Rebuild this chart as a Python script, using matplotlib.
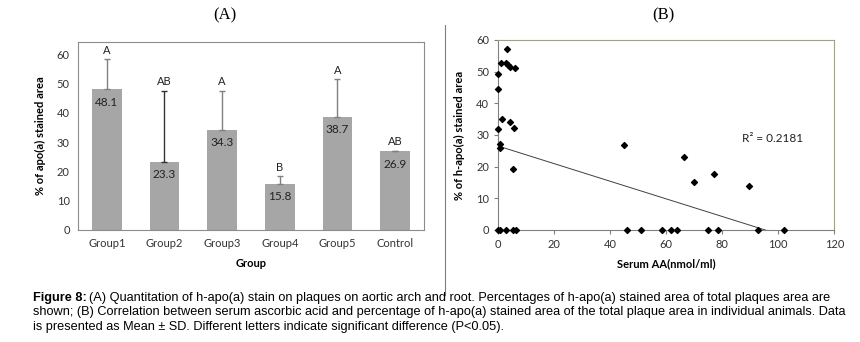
import numpy as np
import matplotlib
matplotlib.use("Agg")
import matplotlib.pyplot as plt
from matplotlib import font_manager

# panel A data
groups = ["Group1", "Group2", "Group3", "Group4", "Group5", "Control"]
means = [48.1, 23.3, 34.3, 15.8, 38.7, 26.9]
sds = [10.2, 24.2, 13.2, 2.5, 12.8, 0.2]
letters = ["A", "AB", "A", "B", "A", "AB"]

# panel B data
serum_aa = [0, 0, 0.8, 2.7, 3.0, 3.5, 4.3, 5.8, 1.5, 4.3, 5.6, 0, 0.6, 0.6, 5.1,
            44.9, 66.4, 77.1, 69.9, 89.5,
            0, 0.6, 2.7, 5.1, 6.5, 46.1, 51.1, 58.5, 61.8, 63.7, 74.9, 78.6, 92.7, 102.1]
hapo = [49.3, 44.5, 52.6, 52.6, 57.2, 52.1, 51.6, 51.3, 35.0, 34.2, 32.2, 31.8, 27.2, 25.8, 19.2,
        26.9, 23.1, 17.7, 15.2, 14.0,
        0, 0, 0, 0, 0, 0, 0, 0, 0, 0, 0, 0, 0, 0]
# excel trendline
trend_intercept = 26.5
trend_slope = -0.278
r2_text = "R\u00b2 = 0.2181"

names = {f.name for f in font_manager.fontManager.ttflist}
sans = "Lato" if "Lato" in names else "DejaVu Sans"
capfont = "Liberation Sans"
plt.rcParams["font.family"] = [sans, "DejaVu Sans"]
plt.rcParams["font.size"] = 8

fig = plt.figure(figsize=(8.6, 3.42), dpi=100)

# ---- panel A
axA = fig.add_axes([0.0907, 0.3275, 0.4023, 0.5497])
x = np.arange(len(groups))
axA.bar(x, means, width=0.51, color="#a6a6a6", zorder=2)
errc = ["#808080", "#333333", "#808080", "#808080", "#808080", "#808080"]
for i in range(len(groups)):
    axA.errorbar(x[i], means[i], yerr=[[0], [sds[i]]], fmt="none", ecolor=errc[i],
                 elinewidth=1, capsize=2.5, capthick=1, zorder=3)
    axA.annotate(f"{means[i]:.1f}", (x[i], means[i]), xytext=(0, -5.5), textcoords="offset points",
                 ha="center", va="top", fontsize=8.5, color="#222222", zorder=4)
    axA.annotate(letters[i], (x[i], means[i] + sds[i]), xytext=(0, 2.5), textcoords="offset points",
                 ha="center", va="bottom", fontsize=8, color="#222222")
axA.set_xlim(-0.5, len(groups) - 0.5)
axA.set_ylim(0, 64.2)
axA.set_yticks(range(0, 61, 10))
axA.set_xticks(x)
axA.set_xticklabels(groups)
axA.tick_params(length=0, labelsize=8, colors="#333333", pad=6)
for s in axA.spines.values():
    s.set_color("#8c8c8c")
    s.set_linewidth(0.8)
axA.set_xlabel("Group", fontweight="bold", fontsize=8, labelpad=6)
axA.set_ylabel("% of apo(a) stained area", fontweight="bold", fontsize=8, labelpad=8)
fig.text(0.262, 0.955, "(A)", family="Liberation Serif", fontsize=12, ha="center", va="center")

# ---- panel B
axB = fig.add_axes([0.5794, 0.3275, 0.3907, 0.5556])
axB.scatter(serum_aa, hapo, marker="D", s=9, color="black", zorder=3, clip_on=False)
xs = np.array([min(serum_aa), max(serum_aa)])
axB.plot(xs, trend_slope * xs + trend_intercept, color="#404040", lw=0.7, zorder=2)
axB.text(87, 29, r2_text, fontsize=8.5, color="#222222", va="center")
axB.set_xlim(0, 120)
axB.set_ylim(0, 60)
axB.set_xticks(range(0, 121, 20))
axB.set_yticks(range(0, 61, 10))
axB.tick_params(length=3, width=0.8, labelsize=8, direction="out")
axB.tick_params(axis="both", colors="#808080", labelcolor="#333333")
for side in ["top", "right"]:
    axB.spines[side].set_color("#a3a37a")
for side in ["left", "bottom"]:
    axB.spines[side].set_color("#808080")
for s in axB.spines.values():
    s.set_linewidth(0.8)
axB.set_xlabel("Serum AA(nmol/ml)", fontweight="bold", fontsize=8, labelpad=6)
axB.set_ylabel("% of h-apo(a) stained area", fontweight="bold", fontsize=8, labelpad=8)
fig.text(0.771, 0.955, "(B)", family="Liberation Serif", fontsize=12, ha="center", va="center")

# divider between the panels
fig.add_artist(plt.Line2D([445 / 860, 445 / 860], [1 - 25 / 342, 1 - 295 / 342],
                          color="#7f7f7f", lw=0.8))

# ---- caption
cap_lines = [
    "(A) Quantitation of h-apo(a) stain on plaques on aortic arch and root. Percentages of h-apo(a) stained area of total plaques area are",
    "shown; (B) Correlation between serum ascorbic acid and percentage of h-apo(a) stained area of the total plaque area in individual animals. Data",
    "is presented as Mean \u00b1 SD. Different letters indicate significant difference (P<0.05).",
]
cap_y = [298, 312.5, 327]
cap_x = 33 / 860
renderer = fig.canvas.get_renderer()
# shrink the caption font so the longest line fits the reference width
probe = fig.text(0, 0, cap_lines[1], family=capfont, fontsize=10)
w = probe.get_window_extent(renderer).width
probe.remove()
cap_fs = 10 * 815 / w

lead = fig.text(cap_x, 1 - cap_y[0] / 342, "Figure 8:", family=capfont, fontweight="bold",
                fontsize=cap_fs, va="center", ha="left")
bb = lead.get_window_extent(renderer)
fig.text(bb.x1 / 860 + 0.003, 1 - cap_y[0] / 342, cap_lines[0], family=capfont, fontsize=cap_fs,
         va="center", ha="left")
for line, yy in zip(cap_lines[1:], cap_y[1:]):
    fig.text(cap_x, 1 - yy / 342, line, family=capfont, fontsize=cap_fs, va="center", ha="left")

fig.savefig("out.png", dpi=100)
